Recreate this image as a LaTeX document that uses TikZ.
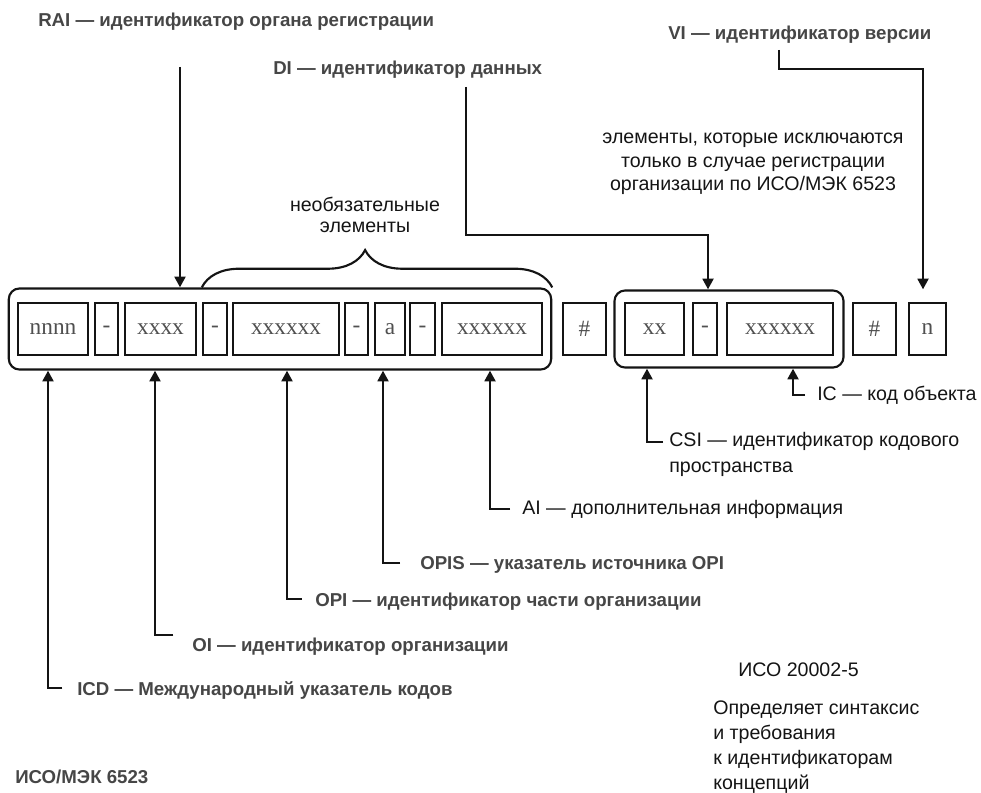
\documentclass[tikz,border=0pt]{standalone}
\usepackage{fontspec}
\setmainfont{Liberation Serif}
\setsansfont{Liberation Sans}
\usetikzlibrary{arrows.meta,positioning,fit,decorations.pathreplacing}
\definecolor{scangray}{RGB}{70,70,70}
\definecolor{inkblack}{RGB}{20,20,20}
\definecolor{celltext}{RGB}{80,80,80}
\tikzset{
  % одна ячейка кода
  cell/.style={
    draw=inkblack,
    line width=1.8pt,
    minimum height=39pt,
    inner sep=0pt,
    text=celltext,
    font=\rmfamily\fontsize{17.5}{19}\selectfont
  },
  % рамка группы ячеек
  grp/.style={draw=inkblack, line width=1.6pt, rounded corners=8pt, inner sep=0pt},
  % жирные (сканированные) подписи
  boldlbl/.style={font=\sffamily\bfseries\fontsize{14}{16}\selectfont, text=scangray, inner sep=0pt, anchor=west},
  % обычные подписи
  lbl/.style={font=\sffamily\fontsize{14.7}{19.5}\selectfont, text=inkblack, inner sep=0pt},
  % стрелки
  arr/.style={-{Triangle[width=8pt,length=8pt]}, line width=2pt, inkblack},
}

\begin{document}
\begin{tikzpicture}[x=0.75pt, y=-0.75pt]
  \useasboundingbox (0,0) rectangle (981,792);

  % Cells
  \node[cell, minimum width=52.5pt] (icd) at (53,329) {nnnn};
  \node[cell, minimum width=17.25pt] (d1) at (106.5,329) {-};
  \node[cell, minimum width=53.25pt] (oi) at (160.5,329) {xxxx};
  \node[cell, minimum width=18pt] (d2) at (215,329) {-};
  \node[cell, minimum width=79.5pt] (opi) at (286,329) {xxxxxx};
  \node[cell, minimum width=17.25pt] (d3) at (356.5,329) {-};
  \node[cell, minimum width=22.5pt] (opis) at (390,329) {a};
  \node[cell, minimum width=18.75pt] (d4) at (422.5,329) {-};
  \node[cell, minimum width=75pt] (ai) at (492,329) {xxxxxx};
  \node[cell, minimum width=32.25pt] (h1) at (584.5,329) {\#};
  \node[cell, minimum width=44.25pt] (csi) at (654.5,329) {xx};
  \node[cell, minimum width=18pt] (d5) at (705,329) {-};
  \node[cell, minimum width=79.5pt] (ic) at (780,329) {xxxxxx};
  \node[cell, minimum width=32.25pt] (h2) at (874.5,329) {\#};
  \node[cell, minimum width=27.75pt] (vi) at (927.5,329) {n};

  % Groups
  \node[grp, fit=(icd)(ai), inner xsep=6pt, inner ysep=10pt] (g1) {};
  \node[grp, fit=(csi)(ic), inner xsep=7pt, inner ysep=8.5pt] (g2) {};

  % Optional elements brace
  \draw[inkblack, line width=1.6pt, decorate,
    decoration={brace, amplitude=28pt, aspect=0.466}]
    (d2.west |- g1.north) -- (g1.north east);
  \node[lbl, align=center, font=\sffamily\fontsize{14.7}{16}\selectfont] (optl) at (365,215) {необязательные\\элементы};

  % Top labels
  \node[boldlbl] (railbl) at (38,22) {RAI — идентификатор органа регистрации};
  \node[boldlbl] (dilbl) at (273,70) {DI — идентификатор данных};
  \node[boldlbl] (vilbl) at (668,35) {VI — идентификатор версии};
  \node[lbl, align=center, font=\sffamily\fontsize{14.7}{17.6}\selectfont] (excl) at (753,164)
    {элементы, которые исключаются\\только в случае регистрации\\организации по ИСО/МЭК 6523};

  \coordinate (raitop) at (180,67);
  \coordinate (ditop) at (466,87);
  \coordinate (dik) at (708,235);
  \coordinate (vitop) at (779,50);
  \coordinate (vik) at (923,69);

  \draw[arr] (raitop) -- (raitop |- g1.north);
  \draw[arr] (ditop) |- (dik) -- (dik |- g2.north);
  \draw[arr] (vitop) |- (vik) -- (vik |- g2.north);

  % Bottom labels
  \node[boldlbl] (icdlbl) at (77,690) {ICD — Международный указатель кодов};
  \node[boldlbl] (oilbl) at (192,647) {OI — идентификатор организации};
  \node[boldlbl] (opilbl) at (315,602) {OPI — идентификатор части организации};
  \node[boldlbl] (opislbl) at (420,565) {OPIS — указатель источника OPI};
  \node[lbl, anchor=west] (ailbl) at (522,509) {AI — дополнительная информация};
  \node[lbl, anchor=north west, align=left] (csilbl) at (669,432) {CSI — идентификатор кодового\\пространства};
  \node[lbl, anchor=west] (iclbl) at (817,395) {IC — код объекта};

  \coordinate (icdk) at (48,688);
  \coordinate (oik) at (155,635);
  \coordinate (opik) at (287,599);
  \coordinate (opisk) at (383,563);
  \coordinate (aik) at (490,509);
  \coordinate (csik) at (647,442);
  \coordinate (ick) at (793,395);

  \draw[arr] ([xshift=-11pt]icdlbl.west |- icdk) -| (icdk |- g1.south);
  \draw[arr] ([xshift=-14pt]oilbl.west |- oik) -| (oik |- g1.south);
  \draw[arr] ([xshift=-10pt]opilbl.west |- opik) -| (opik |- g1.south);
  \draw[arr] ([xshift=-15pt]opislbl.west |- opisk) -| (opisk |- g1.south);
  \draw[arr] ([xshift=-9pt]ailbl.west |- aik) -| (aik |- g1.south);
  \draw[arr] ([xshift=-4.5pt]csilbl.west |- csik) -| (csik |- g2.south);
  \draw[arr] ([xshift=-9pt]iclbl.west |- ick) -| (ick |- g2.south);

  % Standards
  \node[boldlbl] (isolbl) at (15,777) {ИСО/МЭК 6523};
  \node[lbl, anchor=west] (iso2lbl) at (738,670) {ИСО 20002-5};
  \node[lbl, anchor=north west, align=left, font=\sffamily\fontsize{14.7}{18.6}\selectfont] (deflbl) at (713,701)
    {Определяет синтаксис\\и требования\\к идентификаторам\\концепций};
\end{tikzpicture}
\end{document}
